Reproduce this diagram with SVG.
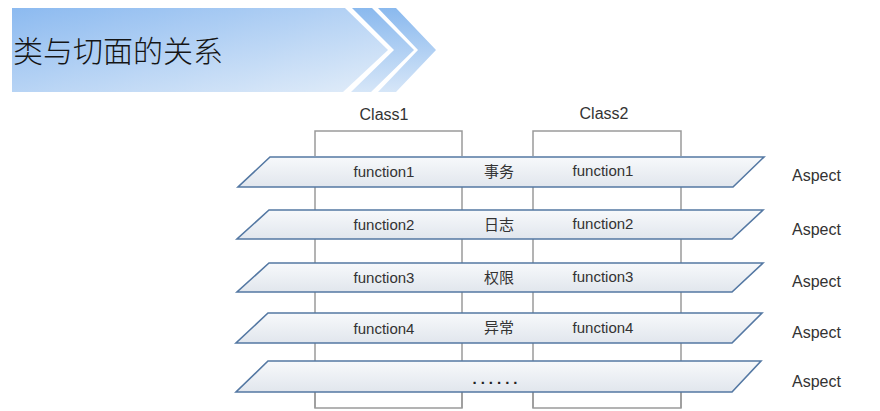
<svg xmlns="http://www.w3.org/2000/svg" width="880" height="411" viewBox="0 0 880 411">
<defs>
<linearGradient id="bannerG" x1="0" y1="0" x2="1" y2="1">
<stop offset="0" stop-color="#8cbaf0"/>
<stop offset="1" stop-color="#e2edf9"/>
</linearGradient>
<linearGradient id="chevG" x1="0" y1="0" x2="0" y2="1">
<stop offset="0" stop-color="#8ab9ee"/>
<stop offset="1" stop-color="#d6e6f8"/>
</linearGradient>
<linearGradient id="layerG" x1="0" y1="0" x2="0" y2="1">
<stop offset="0" stop-color="#f7f9fb"/>
<stop offset="1" stop-color="#e1e6ed"/>
</linearGradient>
</defs>
<style>
.layer{fill:url(#layerG);stroke:#5478a3;stroke-width:1.6;stroke-linejoin:miter}
.br{fill:none;stroke:#9a9a9a;stroke-width:1.5}
.t{font-family:"Liberation Sans","Noto Sans CJK SC",sans-serif;font-size:15px;fill:#333;text-anchor:middle}
.cn{font-family:"Noto Sans CJK SC",sans-serif;font-size:15px;fill:#333;text-anchor:middle}
.asp{font-family:"Liberation Sans",sans-serif;font-size:16px;fill:#333}
.cls{font-family:"Liberation Sans",sans-serif;font-size:16px;fill:#333;text-anchor:middle}
</style>
<rect width="880" height="411" fill="#fff"/>
<g id="banner">
<polygon points="12,8 345,8 388,50 343,92 12,92" fill="url(#bannerG)"/>
<polygon points="352,8 372,8 414,50 371,92 351,92 394,50" fill="url(#chevG)"/>
<polygon points="378,8 396,8 436,50 396,92 378,92 418,50" fill="url(#chevG)"/>
<text x="13" y="62" font-family="'Noto Sans CJK SC',sans-serif" font-size="30" fill="#151515" font-weight="300">类与切面的关系</text>
</g>
<g id="connectors">
<polyline class="br" points="315,156 315,131 462,131 462,156"/>
<polyline class="br" points="533,156 533,131 681,131 681,156"/>
<line class="br" x1="315" y1="187" x2="315" y2="408"/>
<line class="br" x1="462" y1="187" x2="462" y2="408"/>
<line class="br" x1="533" y1="187" x2="533" y2="408"/>
<line class="br" x1="681" y1="187" x2="681" y2="408"/>
<polyline class="br" points="315,392 315,408 462,408 462,392"/>
<polyline class="br" points="533,392 533,408 681,408 681,392"/>
</g>
<g id="class1"><text class="cls" x="384" y="120">Class1</text></g>
<g id="class2"><text class="cls" x="604" y="119">Class2</text></g>
<g id="layer1">
<polygon class="layer" points="270,157 764,157 733,187 238,187"/>
<text class="t" x="384" y="177">function1</text>
<text class="cn" x="499" y="177">事务</text>
<text class="t" x="603" y="176">function1</text>
<text class="asp" x="792" y="181">Aspect</text>
</g>
<g id="layer2">
<polygon class="layer" points="269,210 763,210 732,239 237,239"/>
<text class="t" x="384" y="230">function2</text>
<text class="cn" x="499" y="230">日志</text>
<text class="t" x="603" y="229">function2</text>
<text class="asp" x="792" y="235">Aspect</text>
</g>
<g id="layer3">
<polygon class="layer" points="269,263 763,263 732,292 237,292"/>
<text class="t" x="384" y="283">function3</text>
<text class="cn" x="499" y="283">权限</text>
<text class="t" x="603" y="282">function3</text>
<text class="asp" x="792" y="287">Aspect</text>
</g>
<g id="layer4">
<polygon class="layer" points="268,313 762,313 732,343 236,343"/>
<text class="t" x="384" y="334">function4</text>
<text class="cn" x="499" y="333">异常</text>
<text class="t" x="603" y="333">function4</text>
<text class="asp" x="792" y="338">Aspect</text>
</g>
<g id="layer5">
<polygon class="layer" points="268,361 761,361 732,392 236,392"/>
<text x="497" y="384" font-family="'Liberation Sans',sans-serif" font-size="15" font-weight="bold" fill="#222" text-anchor="middle" letter-spacing="4">......</text>
<text class="asp" x="792" y="387">Aspect</text>
</g>
</svg>
